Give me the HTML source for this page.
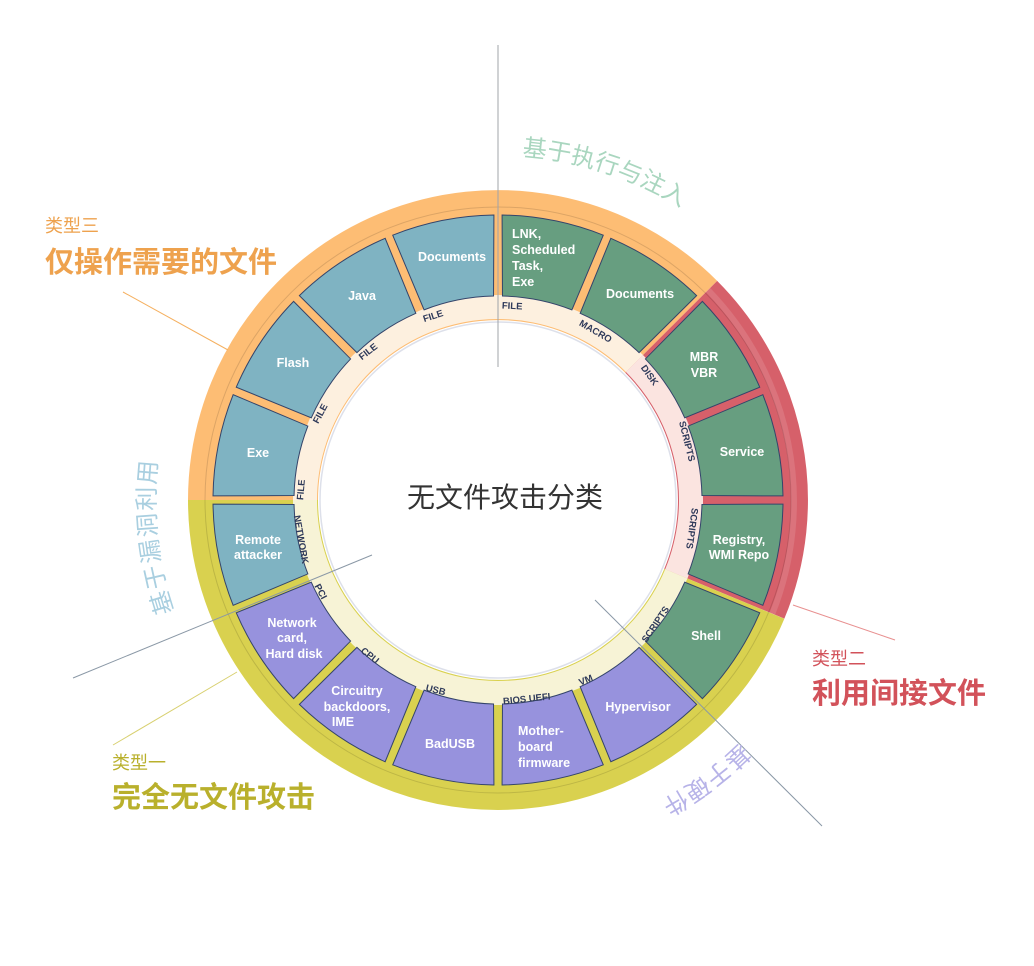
<!DOCTYPE html>
<html><head><meta charset="utf-8"><style>
html,body{margin:0;padding:0;background:#fff;}
svg{display:block;font-family:"Liberation Sans","Noto Sans CJK SC",sans-serif;}
.b{font-weight:bold;font-size:12.5px;fill:#fff;}
.l{font-weight:bold;font-size:9.5px;fill:#2f3a5a;text-anchor:middle;}
</style></head><body>
<svg width="1034" height="966" viewBox="0 0 1034 966" xmlns="http://www.w3.org/2000/svg">
<defs>
<path id="seg" d="M -51.6 -280.3 A 285 285 0 0 1 51.6 -280.3 L 35.4 -200.9 A 204 204 0 0 0 -35.4 -200.9 Z"/>
</defs>
<line x1="498" y1="45" x2="498" y2="367" stroke="#a0a4aa" stroke-width="1"/>
<!-- outer ring (full annulus 180-310) -->
<path d="M 253 500 A 245 245 0 0 1 671.2 326.8" fill="none" stroke="#fdbd74" stroke-width="130"/>
<path d="M 671.2 326.8 A 245 245 0 0 1 724.3 593.8" fill="none" stroke="#d6606a" stroke-width="130"/>
<path d="M 724.3 593.8 A 245 245 0 0 1 253 500" fill="none" stroke="#d9d14f" stroke-width="130"/>
<circle cx="498" cy="500" r="293" fill="none" stroke="rgba(0,0,0,0.13)" stroke-width="1"/>
<path d="M 708 290 A 303 303 0 0 1 772.4 613.7" fill="none" stroke="rgba(255,255,255,0.12)" stroke-width="6"/>
<!-- band -->
<path d="M 305 500 A 193 193 0 0 1 634.47 363.53" fill="none" stroke="#fdf0df" stroke-width="24"/>
<path d="M 634.47 363.53 A 193 193 0 0 1 676.31 573.86" fill="none" stroke="#fbe4e0" stroke-width="24"/>
<path d="M 676.31 573.86 A 193 193 0 0 1 305 500" fill="none" stroke="#f7f3d6" stroke-width="24"/>
<circle cx="498" cy="500" r="178" fill="#fff" stroke="#dde0ea" stroke-width="1.5"/>
<g transform="translate(498,500)" stroke="#34446a" stroke-width="1">
<use href="#seg" transform="rotate(11.25)" fill="#679e80"/>
<use href="#seg" transform="rotate(33.75)" fill="#679e80"/>
<use href="#seg" transform="rotate(56.25)" fill="#679e80"/>
<use href="#seg" transform="rotate(78.75)" fill="#679e80"/>
<use href="#seg" transform="rotate(101.25)" fill="#679e80"/>
<use href="#seg" transform="rotate(123.75)" fill="#679e80"/>
<use href="#seg" transform="rotate(146.25)" fill="#9792dd"/>
<use href="#seg" transform="rotate(168.75)" fill="#9792dd"/>
<use href="#seg" transform="rotate(191.25)" fill="#9792dd"/>
<use href="#seg" transform="rotate(213.75)" fill="#9792dd"/>
<use href="#seg" transform="rotate(236.25)" fill="#9792dd"/>
<use href="#seg" transform="rotate(258.75)" fill="#7fb3c2"/>
<use href="#seg" transform="rotate(281.25)" fill="#7fb3c2"/>
<use href="#seg" transform="rotate(303.75)" fill="#7fb3c2"/>
<use href="#seg" transform="rotate(326.25)" fill="#7fb3c2"/>
<use href="#seg" transform="rotate(348.75)" fill="#7fb3c2"/>
</g>
<line x1="498" y1="190" x2="498" y2="367" stroke="#a0a4aa" stroke-width="1"/>
<line x1="73" y1="678" x2="372" y2="555" stroke="#8a98a6" stroke-width="1"/>
<line x1="595" y1="600" x2="822" y2="826" stroke="#8a98a6" stroke-width="1"/>
<line x1="123" y1="292" x2="228" y2="350" stroke="#f5b060" stroke-width="1"/>
<line x1="793" y1="605" x2="895" y2="640" stroke="#e89090" stroke-width="1"/>
<line x1="113" y1="745" x2="237" y2="672" stroke="#d8d070" stroke-width="1"/>
<g class="b">
<text x="512" y="238">LNK,</text><text x="512" y="254">Scheduled</text><text x="512" y="270">Task,</text><text x="512" y="286">Exe</text>
<text x="518" y="735">Mother-</text><text x="518" y="751">board</text><text x="518" y="767">firmware</text>
</g>
<g class="b" text-anchor="middle">
<text x="452" y="261">Documents</text>
<text x="362" y="300">Java</text>
<text x="293" y="367">Flash</text>
<text x="258" y="457">Exe</text>
<text x="258" y="544">Remote</text><text x="258" y="559">attacker</text>
<text x="292" y="627">Network</text><text x="292" y="642">card,</text><text x="294" y="658">Hard disk</text>
<text x="357" y="695">Circuitry</text><text x="357" y="711">backdoors,</text><text x="343" y="726">IME</text>
<text x="450" y="748">BadUSB</text>
<text x="638" y="711">Hypervisor</text>
<text x="706" y="640">Shell</text>
<text x="739" y="544">Registry,</text><text x="739" y="559">WMI Repo</text>
<text x="742" y="456">Service</text>
<text x="704" y="361">MBR</text><text x="704" y="377">VBR</text>
<text x="640" y="298">Documents</text>
</g>
<g class="l">
<text transform="translate(512,309) rotate(3)">FILE</text>
<text transform="translate(594,334) rotate(30)">MACRO</text>
<text transform="translate(647,377) rotate(55)">DISK</text>
<text transform="translate(684,442) rotate(76)">SCRIPTS</text>
<text transform="translate(689,528) rotate(98)">SCRIPTS</text>
<text transform="translate(658,626) rotate(-56)">SCRIPTS</text>
<text transform="translate(587,683) rotate(-22)">VM</text>
<text transform="translate(527,702) rotate(-6)">BIOS UEFI</text>
<text transform="translate(435,693) rotate(14)">USB</text>
<text transform="translate(368,658) rotate(38)">CPU</text>
<text transform="translate(318,593) rotate(62)">PCI</text>
<text transform="translate(298,540) rotate(80)">NETWORK</text>
<text transform="translate(304,490) rotate(-85)">FILE</text>
<text transform="translate(323,415) rotate(-62)">FILE</text>
<text transform="translate(370,354) rotate(-38)">FILE</text>
<text transform="translate(434,319) rotate(-18)">FILE</text>
</g>
<text x="505" y="507" text-anchor="middle" font-size="28" fill="#333">无文件攻击分类</text>
<g font-size="24" fill="#a9d6bf" text-anchor="middle">
<text transform="translate(498,500) rotate(6) translate(0,-345)">基</text>
<text transform="translate(498,500) rotate(10) translate(0,-345)">于</text>
<text transform="translate(498,500) rotate(14) translate(0,-345)">执</text>
<text transform="translate(498,500) rotate(18) translate(0,-345)">行</text>
<text transform="translate(498,500) rotate(22) translate(0,-345)">与</text>
<text transform="translate(498,500) rotate(26) translate(0,-345)">注</text>
<text transform="translate(498,500) rotate(30) translate(0,-345)">入</text>
</g>
<g font-size="24" fill="#a9cfe0" text-anchor="middle">
<text transform="translate(498,500) rotate(253) translate(0,-343)">基</text>
<text transform="translate(498,500) rotate(257.3) translate(0,-343)">于</text>
<text transform="translate(498,500) rotate(261.6) translate(0,-343)">漏</text>
<text transform="translate(498,500) rotate(265.9) translate(0,-343)">洞</text>
<text transform="translate(498,500) rotate(270.2) translate(0,-343)">利</text>
<text transform="translate(498,500) rotate(274.5) translate(0,-343)">用</text>
</g>
<g font-size="24" fill="#b7b3e8" text-anchor="middle">
<text transform="translate(498,500) rotate(137) translate(0,-343)">基</text>
<text transform="translate(498,500) rotate(141.2) translate(0,-343)">于</text>
<text transform="translate(498,500) rotate(145.4) translate(0,-343)">硬</text>
<text transform="translate(498,500) rotate(149.6) translate(0,-343)">件</text>
</g>
<text x="45" y="232" font-size="18" fill="#eea24e">类型三</text>
<text x="45" y="272" font-size="29" font-weight="bold" fill="#eea24e">仅操作需要的文件</text>
<text x="812" y="665" font-size="18" fill="#d2525a">类型二</text>
<text x="812" y="703" font-size="29" font-weight="bold" fill="#d2525a">利用间接文件</text>
<text x="112" y="769" font-size="18" fill="#b9b02c">类型一</text>
<text x="112" y="807" font-size="29" font-weight="bold" fill="#b9b02c">完全无文件攻击</text>
</svg>
</body></html>
